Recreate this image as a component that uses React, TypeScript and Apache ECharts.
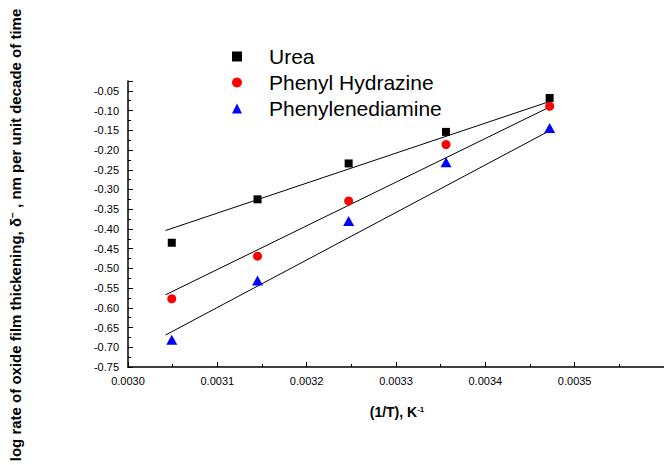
import React, { useEffect, useRef } from "react";
import * as echarts from "echarts";

// 1/T values (K^-1)
const xValues = [0.003049, 0.003145, 0.003247, 0.003356, 0.003472];
const urea = [-0.435, -0.325, -0.234, -0.154, -0.068];
const phenylHydrazine = [-0.577, -0.469, -0.329, -0.186, -0.089];
const phenylenediamine = [-0.681, -0.531, -0.38, -0.231, -0.144];

// fitted straight lines (end points)
const fitX = [0.003042, 0.003472];
const ureaFit = [-0.404, -0.077];
const phenylHydrazineFit = [-0.567, -0.091];
const phenylenediamineFit = [-0.669, -0.151];

const seriesNames = ["Urea", "Phenyl Hydrazine", "Phenylenediamine"];

const FONT = "'Liberation Sans', Arial, Helvetica, sans-serif";

const pairs = (xs: number[], ys: number[]) => xs.map((x, i) => [x, ys[i]]);

export default function App() {
  const ref = useRef<HTMLDivElement>(null);

  useEffect(() => {
    if (!ref.current) return;
    const chart = echarts.init(ref.current, null, { renderer: "svg" });

    const scatter = (name: string, ys: number[], symbol: string, size: any, color: string) => ({
      name,
      type: "scatter",
      data: pairs(xValues, ys),
      symbol,
      symbolSize: size,
      itemStyle: { color, opacity: 1 },
      z: 3,
    });
    const fit = (ys: number[]) => ({
      type: "line",
      data: pairs(fitX, ys),
      showSymbol: false,
      symbol: "none",
      lineStyle: { color: "#000", width: 1 },
      z: 2,
      silent: true,
    });

    chart.setOption({
      animation: false,
      backgroundColor: "#fff",
      grid: { left: 128, right: -55, top: 81, bottom: 98 },
      legend: {
        data: seriesNames,
        orient: "vertical",
        left: 232,
        top: 46,
        padding: 0,
        itemWidth: 10,
        itemHeight: 10,
        itemGap: 5,
        textStyle: { fontSize: 21, color: "#000", fontFamily: FONT, padding: [0, 0, 0, 22] },
      },
      xAxis: {
        type: "value",
        min: 0.003,
        max: 0.0036,
        interval: 0.0001,
        axisLine: { lineStyle: { color: "#000", width: 1.5 } },
        axisTick: { inside: true, length: 5, lineStyle: { color: "#000", width: 1 } },
        minorTick: { show: true, splitNumber: 2, length: 3, lineStyle: { color: "#000", width: 1 } },
        splitLine: { show: false },
        axisLabel: {
          margin: 8,
          fontSize: 11,
          color: "#000",
          fontFamily: FONT,
          showMaxLabel: false,
          formatter: (v: number) => v.toFixed(4),
        },
      },
      yAxis: {
        type: "value",
        min: -0.75,
        max: -0.025,
        interval: 0.05,
        axisLine: { lineStyle: { color: "#000", width: 1.5 } },
        axisTick: { inside: true, length: 5, lineStyle: { color: "#000", width: 1 } },
        minorTick: { show: true, splitNumber: 2, length: 3, lineStyle: { color: "#000", width: 1 } },
        splitLine: { show: false },
        axisLabel: {
          margin: 9,
          fontSize: 11,
          color: "#000",
          fontFamily: FONT,
          showMaxLabel: false,
          formatter: (v: number) => v.toFixed(2),
        },
      },
      graphic: [
        {
          type: "text",
          x: 397,
          y: 412,
          style: {
            text: "(1/T), K{sup|-1}",
            align: "center",
            verticalAlign: "middle",
            font: `bold 14px ${FONT}`,
            fill: "#000",
            rich: {
              sup: { fontSize: 8, fontWeight: "bold", fontFamily: FONT, verticalAlign: "top", fill: "#000" },
            },
          },
        },
        {
          type: "text",
          x: 15,
          y: 235,
          rotation: Math.PI / 2,
          style: {
            text: "log rate of oxide film thickening, δ{sup|−} , nm per unit decade of time",
            align: "center",
            verticalAlign: "middle",
            font: `bold 15px ${FONT}`,
            fill: "#000",
            rich: {
              sup: { fontSize: 10, fontWeight: "bold", fontFamily: FONT, verticalAlign: "top", fill: "#000" },
            },
          },
        },
      ],
      series: [
        scatter(seriesNames[0], urea, "rect", 8, "#000000"),
        scatter(seriesNames[1], phenylHydrazine, "circle", 9, "#ff0000"),
        scatter(seriesNames[2], phenylenediamine, "triangle", [11, 10], "#0000ff"),
        fit(ureaFit),
        fit(phenylHydrazineFit),
        fit(phenylenediamineFit),
      ],
    });

    return () => chart.dispose();
  }, []);

  return (
    <div
      ref={ref}
      style={{ position: "fixed", left: 0, top: 0, width: 664, height: 465, background: "#fff" }}
    />
  );
}
